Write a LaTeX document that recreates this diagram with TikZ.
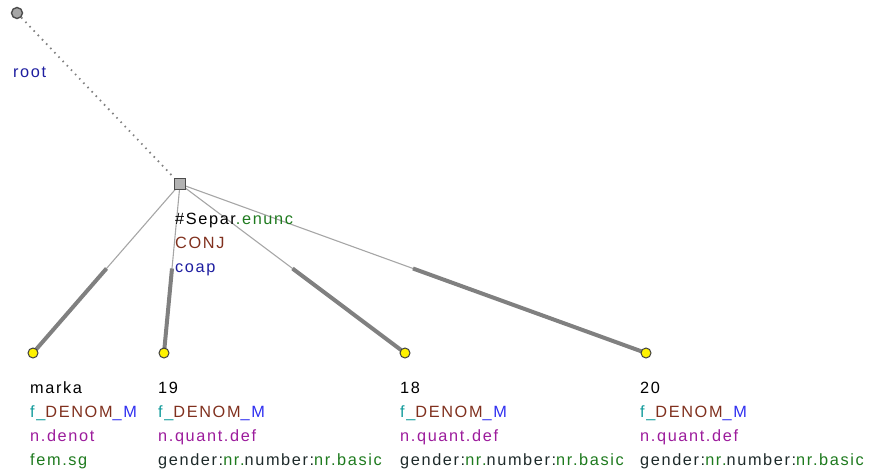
\documentclass[tikz,border=0pt]{standalone}
\usepackage{fontspec}
\setmainfont{Liberation Sans}[LetterSpace=10]
\usetikzlibrary{calc,backgrounds}
\definecolor{cteal}{HTML}{109A9A}
\definecolor{cbrown}{HTML}{80301E}
\definecolor{cblue}{HTML}{2E2EF0}
\definecolor{cpurple}{HTML}{9C1C9C}
\definecolor{cgreen}{HTML}{1E7A1E}
\definecolor{cnavy}{HTML}{1E1EA0}
\definecolor{cdark}{HTML}{1E2A2A}
\newcommand{\lblfont}{\fontsize{16.3}{24}\selectfont}
\newcommand{\fdenom}{\textcolor{cteal}{f\_}\textcolor{cbrown}{DENOM}\textcolor{cblue}{\_M}}
\newcommand{\gnb}{\textcolor{cdark}{gender:}\textcolor{cgreen}{nr.}\textcolor{cdark}{number:}\textcolor{cgreen}{nr.basic}}
\begin{document}
\begin{tikzpicture}[x=1pt,y=-1pt,
  lbl/.style={anchor=base west,inner sep=0pt,font=\lblfont},
  leaf/.style={circle,draw=black!75,fill=yellow,minimum size=10pt,inner sep=0pt,line width=1pt},
  rootnode/.style={circle,draw=black!70,fill=black!35,minimum size=11pt,inner sep=0pt,line width=1.4pt},
  coord/.style={rectangle,draw=black!70,fill=black!30,minimum size=11pt,inner sep=0pt,line width=1.2pt},
  thinedge/.style={draw=black!35,line width=1.1pt},
  thickedge/.style={draw=black!50,line width=4pt},
  rootedge/.style={draw=black!50,line width=1.8pt,dash pattern=on 1.5pt off 4.5pt}]
\useasboundingbox (0,0) rectangle (872,476);
\node[rootnode] (r) at (17,13) {};
\node[coord] (s) at (180,184) {};
\node[leaf] (a) at (33,353) {};
\node[leaf] (b) at (164,353) {};
\node[leaf] (c) at (405,353) {};
\node[leaf] (d) at (646,353) {};
\begin{pgfonlayer}{background}
\draw[rootedge] (r) -- (s);
\foreach \k in {a,b,c,d}{
  \draw[thinedge] (s.center) -- (\k.center);
  \draw[thickedge] ($(s.center)!0.5!(\k.center)$) -- (\k.center);
}
\end{pgfonlayer}
\node[lbl,text=cnavy] (rl) at (13,78) {root};
\node[lbl] (s1) at (175,224) {\textcolor{black}{\#Separ}\textcolor{cgreen}{.enunc}};
\node[lbl,text=cbrown] (s2) at (175,248) {CONJ};
\node[lbl,text=cnavy] (s3) at (175,272) {coap};
\node[lbl] (a1) at (30,393) {marka};
\node[lbl] (a2) at (30,417) {\fdenom};
\node[lbl,text=cpurple] (a3) at (30,441) {n.denot};
\node[lbl,text=cgreen] (a4) at (30,465) {fem.sg};
\node[lbl] (b1) at (158,393) {19};
\node[lbl] (b2) at (158,417) {\fdenom};
\node[lbl,text=cpurple] (b3) at (158,441) {n.quant.def};
\node[lbl] (b4) at (158,465) {\gnb};
\node[lbl] (c1) at (400,393) {18};
\node[lbl] (c2) at (400,417) {\fdenom};
\node[lbl,text=cpurple] (c3) at (400,441) {n.quant.def};
\node[lbl] (c4) at (400,465) {\gnb};
\node[lbl] (d1) at (640,393) {20};
\node[lbl] (d2) at (640,417) {\fdenom};
\node[lbl,text=cpurple] (d3) at (640,441) {n.quant.def};
\node[lbl] (d4) at (640,465) {\gnb};
\end{tikzpicture}
\end{document}
